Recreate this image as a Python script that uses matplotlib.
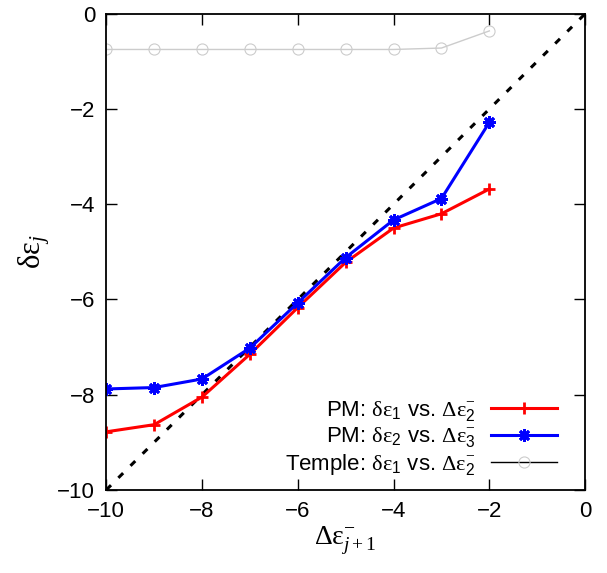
import numpy as np
import matplotlib
matplotlib.use('Agg')
import matplotlib.pyplot as plt

plt.rcParams['font.family'] = 'Liberation Sans'
plt.rcParams['mathtext.fontset'] = 'custom'
plt.rcParams['mathtext.rm'] = 'Liberation Serif'
plt.rcParams['mathtext.it'] = 'Liberation Serif:italic'
plt.rcParams['mathtext.sf'] = 'Liberation Sans'

# data
x = [-10, -9, -8, -7, -6, -5, -4, -3, -2]
pm1 = [-8.78, -8.63, -8.05, -7.15, -6.17, -5.22, -4.50, -4.20, -3.68]
pm2 = [-7.88, -7.85, -7.67, -7.02, -6.07, -5.12, -4.33, -3.88, -2.28]
temple = [-0.75, -0.75, -0.75, -0.75, -0.75, -0.75, -0.75, -0.72, -0.36]
diag = [-10, 0]
ticks = [-10, -8, -6, -4, -2, 0]

fig = plt.figure(figsize=(6.07, 5.73), dpi=100)
ax = fig.add_axes([0.175, 0.145, 0.789, 0.831])

ax.plot(diag, diag, color='black', ls=(0, (2.2, 3.4)), lw=2.2)
ax.plot(x, pm1, color='#ff0000', lw=2.2, marker='+', ms=9, mew=2.0,
        label=r'PM: $\mathrm{\delta\varepsilon}_{\mathsf{1}}$ vs. $\mathrm{\Delta\varepsilon}^{-}_{\mathsf{2}}$')
ax.plot(x, pm2, color='#0000ff', lw=2.2, marker=(8, 2, 0), ms=9, mew=2.0,
        label=r'PM: $\mathrm{\delta\varepsilon}_{\mathsf{2}}$ vs. $\mathrm{\Delta\varepsilon}^{-}_{\mathsf{3}}$')
ax.plot(x, temple, color='#cccccc', lw=1, marker='o', ms=8, mfc='none', mew=0.8,
        label=r'Temple: $\mathrm{\delta\varepsilon}_{\mathsf{1}}$ vs. $\mathrm{\Delta\varepsilon}^{-}_{\mathsf{2}}$')

ax.set_xlim(-10, 0)
ax.set_ylim(-10, 0)
ax.set_xticks(ticks)
ax.set_yticks(ticks)
ax.tick_params(direction='in', top=True, right=True, length=8, width=1, labelsize=16, pad=8)
for s in ax.spines.values():
    s.set_linewidth(1.3)

ax.set_xlabel(r'$\mathrm{\Delta\varepsilon}^{-}_{j+1}$', fontsize=20, labelpad=2)
ax.set_ylabel(r'$\mathrm{\delta\varepsilon}_{j}$', fontsize=22, labelpad=4)

leg = ax.legend(loc='lower right', bbox_to_anchor=(0.97, 0.0), frameon=False,
                markerfirst=False, fontsize=16, handlelength=3.0, labelspacing=0.1,
                borderaxespad=0.2, handletextpad=0.7)
# temple legend line is black in the reference
leg.legend_handles[2].set_color('black')
leg.legend_handles[2].set_markeredgecolor('#cccccc')

fig.savefig('out.png', dpi=100)
